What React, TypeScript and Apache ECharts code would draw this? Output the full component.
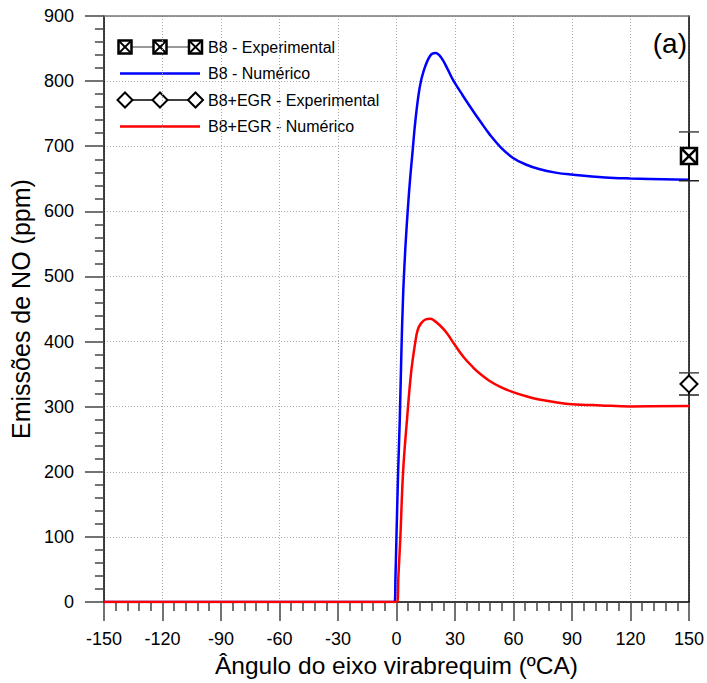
import React, { useEffect, useRef } from "react";
import * as echarts from "echarts";

// ---- Data ----
const b8Angle = [-150, -1, -0.5, 0, 0.85, 1.7, 2.5, 3.4, 4.5, 5.75, 7, 8.3, 9.7, 11.9, 14, 17.3, 20, 23, 26.3, 29, 34, 39.1, 43.5, 47.6, 53.6, 59.8, 66.3, 73.1, 81.6, 89.8, 107, 120, 150];
const b8NO = [0, 0, 40, 100, 200, 280, 380, 470, 540, 600, 650, 693, 739, 790, 816, 839, 843, 836, 818, 802, 778, 755, 736, 719, 698, 682, 672, 665, 659.5, 656.5, 652, 650.5, 648.5];

const egrAngle = [-150, 0.3, 1, 2, 3.4, 5.4, 7.5, 9.7, 10.9, 12.6, 15, 17.3, 19, 22.1, 25.6, 29.7, 34.5, 39.1, 43.5, 47.6, 53.5, 59.8, 66.5, 73.1, 81.5, 89.8, 105, 120, 150];
const egrNO = [0, 0, 40, 100, 200, 280, 352, 400, 418, 428, 434, 435, 433, 425.5, 414, 396, 376, 361, 349, 340, 330, 322.5, 316, 311, 307, 304, 302, 300.5, 301];

const expAngle = [150];
const expB8 = [685];
const expB8Low = [647];
const expB8High = [722];
const expEGR = [335];
const expEGRLow = [318];
const expEGRHigh = [352];

const legendNames = [
  "B8 - Experimental",
  "B8 - Numérico",
  "B8+EGR - Experimental",
  "B8+EGR - Numérico",
];

const xMin = -150;
const xMax = 150;
const xStep = 30;
const yMin = 0;
const yMax = 900;
const yStep = 100;

const FONT = '"Liberation Sans", Arial, sans-serif';
const SQX = "path://M0,0L20,0L20,20L0,20ZM0,0L20,20M20,0L0,20";

function pairs(xs: number[], ys: number[]) {
  return xs.map((x, i) => [x, ys[i]]);
}

function squareX(cx: number, cy: number, s: number) {
  const h = s / 2;
  return [
    { type: "rect", shape: { x: cx - h, y: cy - h, width: s, height: s }, style: { fill: "#fff", stroke: "#000", lineWidth: 2.5 } },
    { type: "line", shape: { x1: cx - h, y1: cy - h, x2: cx + h, y2: cy + h }, style: { stroke: "#000", lineWidth: 1.8 } },
    { type: "line", shape: { x1: cx + h, y1: cy - h, x2: cx - h, y2: cy + h }, style: { stroke: "#000", lineWidth: 1.8 } },
  ];
}

function diamond(cx: number, cy: number, r: number) {
  return {
    type: "polygon",
    shape: { points: [[cx, cy - r], [cx + r, cy], [cx, cy + r], [cx - r, cy]] },
    style: { fill: "#fff", stroke: "#000", lineWidth: 2 },
  };
}

export default function App() {
  const ref = useRef<HTMLDivElement>(null);

  useEffect(() => {
    if (!ref.current) return;
    const chart = echarts.init(ref.current, undefined, { renderer: "svg" });

    const legX1 = 120;
    const legX2 = 200;
    const legTextX = 208;
    const rows = [47, 73.5, 100, 126.5];
    const mk = [125, 160, 195.5];

    const graphic: any[] = [
      { type: "line", shape: { x1: legX1, y1: rows[0], x2: legX2, y2: rows[0] }, style: { stroke: "#777", lineWidth: 1.5 } },
      ...mk.flatMap((cx) => squareX(cx, rows[0], 13)),
      { type: "line", shape: { x1: legX1, y1: rows[1], x2: legX2, y2: rows[1] }, style: { stroke: "#0000ff", lineWidth: 2.5 } },
      { type: "line", shape: { x1: legX1, y1: rows[2], x2: legX2, y2: rows[2] }, style: { stroke: "#000", lineWidth: 1.5 } },
      ...mk.map((cx) => diamond(cx, rows[2], 7.5)),
      { type: "line", shape: { x1: legX1, y1: rows[3], x2: legX2, y2: rows[3] }, style: { stroke: "#ff0000", lineWidth: 2.5 } },
      ...legendNames.map((t, i) => ({
        type: "text",
        x: legTextX,
        y: rows[i],
        style: { text: t, font: `16px ${FONT}`, fill: "#000", align: "left", verticalAlign: "middle" },
      })),
      {
        type: "text",
        x: 687,
        y: 43,
        style: { text: "(a)", font: `28px ${FONT}`, fill: "#000", align: "right", verticalAlign: "middle" },
      },
    ];

    const option: any = {
      animation: false,
      backgroundColor: "#fff",
      grid: { left: 102, right: 17, top: 16, bottom: 80, containLabel: false },
      xAxis: [
        {
          type: "value",
          min: xMin,
          max: xMax,
          interval: xStep,
          position: "bottom",
          name: "Ângulo do eixo virabrequim (ºCA)",
          nameLocation: "middle",
          nameGap: 46,
          nameTextStyle: { fontFamily: FONT, fontSize: 24.5, color: "#000" },
          axisLine: { onZero: false, lineStyle: { color: "#000", width: 1.5 } },
          axisTick: { show: true, length: 19, lineStyle: { color: "#444", width: 1.5 } },
          minorTick: { show: true, splitNumber: 5, length: 9, lineStyle: { color: "#444", width: 1.5 } },
          axisLabel: { margin: 28, fontFamily: FONT, fontSize: 18, color: "#000" },
          splitLine: { show: true, lineStyle: { type: [1, 2], color: "#aaa", width: 1 } },
        },
        {
          type: "value",
          min: xMin,
          max: xMax,
          interval: xStep,
          position: "top",
          axisLine: { show: true, onZero: false, lineStyle: { color: "#777", width: 1.5 } },
          axisTick: { show: false },
          axisLabel: { show: false },
          splitLine: { show: false },
        },
      ],
      yAxis: [
        {
          type: "value",
          min: yMin,
          max: yMax,
          interval: yStep,
          position: "left",
          name: "Emissões de NO (ppm)",
          nameLocation: "middle",
          nameGap: 67,
          nameTextStyle: { fontFamily: FONT, fontSize: 25, color: "#000" },
          axisLine: { show: true, onZero: false, lineStyle: { color: "#000", width: 1.5 } },
          axisTick: { show: true, length: 19, lineStyle: { color: "#444", width: 1.5 } },
          minorTick: { show: true, splitNumber: 5, length: 9, lineStyle: { color: "#444", width: 1.5 } },
          axisLabel: { margin: 30, fontFamily: FONT, fontSize: 18, color: "#000" },
          splitLine: { show: true, lineStyle: { type: [1, 2], color: "#aaa", width: 1 } },
        },
        {
          type: "value",
          min: yMin,
          max: yMax,
          interval: yStep,
          position: "right",
          axisLine: { show: true, onZero: false, lineStyle: { color: "#000", width: 1.5 } },
          axisTick: { show: false },
          axisLabel: { show: false },
          splitLine: { show: false },
        },
      ],
      series: [
        {
          name: legendNames[1],
          type: "line",
          data: pairs(b8Angle, b8NO),
          showSymbol: false,
          smooth: 0.4,
          lineStyle: { color: "#0000ff", width: 2.5 },
          z: 3,
        },
        {
          name: legendNames[3],
          type: "line",
          data: pairs(egrAngle, egrNO),
          showSymbol: false,
          smooth: 0.4,
          lineStyle: { color: "#ff0000", width: 2.5 },
          z: 4,
        },
        {
          type: "custom",
          clip: false,
          z: 5,
          data: [
            ...expAngle.map((x, i) => [x, expB8Low[i], expB8High[i]]),
            ...expAngle.map((x, i) => [x, expEGRLow[i], expEGRHigh[i]]),
          ],
          encode: { x: 0, y: [1, 2] },
          renderItem: (params: any, api: any) => {
            const x = api.value(0);
            const top = api.coord([x, api.value(2)]);
            const bot = api.coord([x, api.value(1)]);
            const w = 10;
            return {
              type: "group",
              children: [
                { type: "line", shape: { x1: top[0], y1: top[1], x2: bot[0], y2: bot[1] }, style: { stroke: "#000", lineWidth: 1.5 } },
                { type: "line", shape: { x1: top[0] - w, y1: top[1], x2: top[0] + w, y2: top[1] }, style: { stroke: "#444", lineWidth: 1.5 } },
                { type: "line", shape: { x1: bot[0] - w, y1: bot[1], x2: bot[0] + w, y2: bot[1] }, style: { stroke: "#222", lineWidth: 1.5 } },
              ],
            };
          },
        },
        {
          name: legendNames[0],
          type: "scatter",
          clip: false,
          z: 6,
          data: pairs(expAngle, expB8),
          symbol: SQX,
          symbolSize: 16,
          itemStyle: { color: "#fff", borderColor: "#000", borderWidth: 2.5, opacity: 1 },
        },
        {
          name: legendNames[2],
          type: "scatter",
          clip: false,
          z: 6,
          data: pairs(expAngle, expEGR),
          symbol: "diamond",
          symbolSize: [17, 17],
          itemStyle: { color: "#fff", borderColor: "#000", borderWidth: 2, opacity: 1 },
        },
      ],
      graphic,
    };

    chart.setOption(option);
    return () => chart.dispose();
  }, []);

  return (
    <div
      ref={ref}
      style={{ position: "fixed", left: 0, top: 0, width: 707, height: 683, background: "#fff" }}
    />
  );
}
